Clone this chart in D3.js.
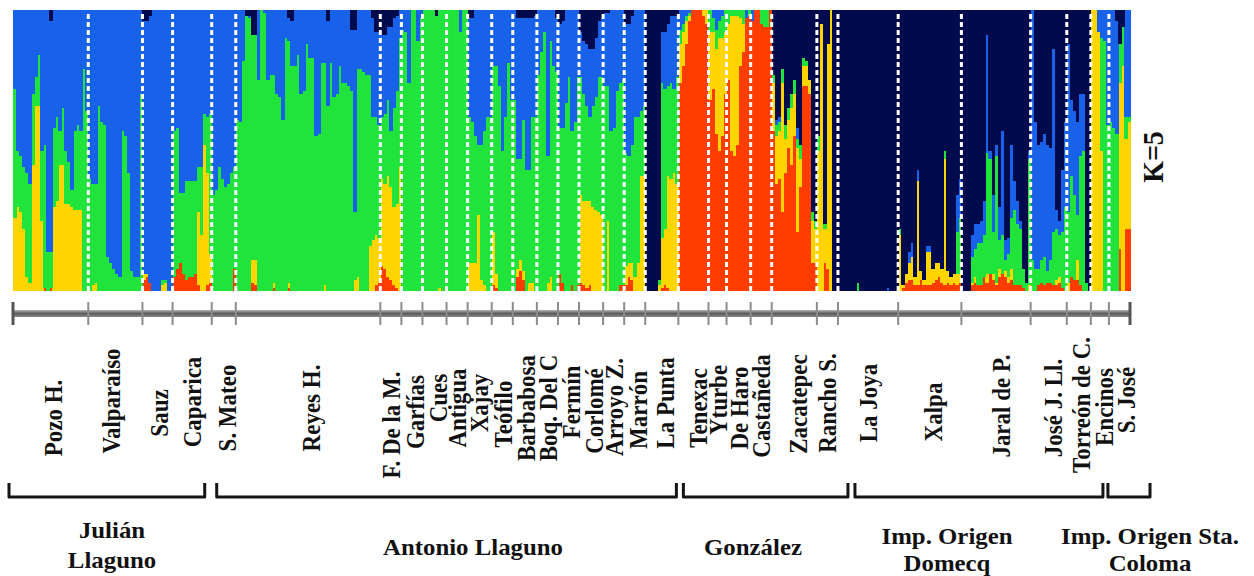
<!DOCTYPE html>
<html>
<head>
<meta charset="utf-8">
<script src="https://cdn.jsdelivr.net/npm/d3@7"></script>
<style>
  body { margin: 0; background: #fff; }
  svg { display: block; font-family: "Liberation Serif", "Times New Roman", serif; font-weight: bold; }
</style>
</head>
<body>
<svg id="chart" width="1254" height="576"></svg>
<script>
// Data
// ancestry per individual (%), order: red, yellow, green, blue, navy
const clusterColors = ["#ff3d00", "#ffd500", "#20e43c", "#1862ea", "#010a4c"];

const popNames = [
  "Pozo H.", "Valparaíso", "Sauz", "Caparica",
  "S. Mateo", "Reyes H.", "F. De la M.", "Garfías", "Cues", "Antigua", "Xajay", "Teófilo",
  "Barbabosa", "Boq. Del C", "Fermín", "Corlomé", "Arroyo Z.", "Marrón", "La Punta",
  "Tenexac", "Yturbe", "De Haro", "Castañeda", "Zacatepec", "Rancho S.",
  "La Joya", "Xalpa", "Jaral de P.", "José J. Ll.", "Torreón de C.", "Encinos",
  "S. José"
];

const groupNames = [
  ["Julián", "Llaguno"],
  ["Antonio Llaguno"],
  ["González"],
  ["Imp. Origen", "Domecq"],
  ["Imp. Origen Sta.", "Coloma"]
];

const julianQ = [
  // Pozo H.
  [[0,26,46,28,0],[0,30,20,50,0],[0,28,20,52,0],[0,22,22,56,0],[0,5,37,58,0],
   [0,3,35,62,0],[0,45,25,30,0],[0,66,10,24,0],[0,66,18,16,0],[0,25,25,50,0],
   [1,0,51,48,0],[0,0,14,86,0],[1,0,13,82,4],[0,30,28,42,0],[0,32,30,38,0],
   [0,45,12,43,0],[0,45,20,35,0],[0,31,19,50,0],[0,31,15,54,0],[0,30,6,64,0],
   [0,29,28,43,0],[0,29,30,41,0],[0,29,28,43,0],[0,0,79,21,0],[0,0,64,36,0]],
  // Valparaíso
  [[0,0,40,60,0],[0,2,36,62,0],[0,3,35,62,0],[0,0,66,34,0],[0,0,60,40,0],
   [0,0,59,41,0],[0,0,12,88,0],[0,0,10,90,0],[0,0,8,92,0],[0,0,6,94,0],
   [0,0,5,95,0],[0,0,57,43,0],[0,0,55,45,0],[0,0,42,58,0],[0,0,7,93,0],
   [0,0,5,95,0],[0,0,5,95,0],[0,0,70,30,0]],
  // Sauz
  [[4,2,0,90,4],[5,1,0,90,4],[3,0,0,95,2],[0,0,0,100,0],[0,0,0,100,0],
   [0,0,0,100,0],[0,2,2,96,0],[0,3,1,96,0],[0,0,0,100,0],[0,0,0,100,0]],
  // Caparica
  [[5,0,52,43,0],[8,0,50,42,0],[10,0,25,65,0],[6,0,29,65,0],[4,0,35,61,0],
   [5,0,34,61,0],[5,0,34,61,0],[6,0,33,61,0],[2,26,16,56,0],[0,20,24,56,0],
   [0,52,11,37,0],[2,40,20,38,0],[3,10,50,37,0]]
];

const antonioQ = [
  // S. Mateo
  [[0,0,34,66,0],[0,0,36,64,0],[0,0,44,56,0],[0,0,40,60,0],[0,0,37,63,0],
   [0,0,38,62,0],[0,0,42,58,0],[8,0,36,56,0]],
  // Reyes H.
  [[0,0,61,39,0],[0,0,60,40,0],[0,0,82,18,0],[0,0,98,0,2],[0,0,97,1,2],
   [3,8,80,0,9],[2,9,80,0,9],[0,0,75,25,0],[0,0,100,0,0],[0,0,99,1,0],
   [0,0,75,25,0],[0,0,77,23,0],[1,2,74,23,0],[0,0,70,30,0],[0,0,69,31,0],
   [0,0,61,39,0],[0,0,90,10,0],[1,2,86,8,3],[0,0,80,16,4],[0,0,80,20,0],
   [0,0,84,16,0],[0,0,70,30,0],[0,0,71,29,0],[0,0,88,12,0],[0,0,83,17,0],
   [0,0,83,17,0],[0,0,55,45,0],[0,0,56,44,0],[0,0,81,19,0],[0,2,79,19,0],
   [0,0,66,30,4],[0,0,81,19,0],[0,0,69,31,0],[0,0,70,30,0],[0,0,80,20,0],
   [0,0,74,26,0],[0,0,74,26,0],[0,0,73,27,0],[0,0,71,22,7],[0,4,24,65,7],
   [0,5,74,21,0],[0,0,79,21,0],[0,0,78,22,0],[0,0,77,23,0],[0,16,61,23,0],
   [0,18,44,35,3],[2,18,42,30,8],[3,16,40,33,8]],
  // F. De la M.
  [[9,31,22,29,9],[8,30,25,28,9],[5,36,27,26,6],[4,33,20,37,6],[2,28,35,32,3],
   [1,30,40,27,2],[0,44,46,10,0]],
  // Garfías
  [[0,0,93,7,0],[0,0,92,8,0],[0,0,74,26,0],[0,0,100,0,0],[0,0,100,0,0],
   [0,0,89,11,0],[0,0,97,3,0]],
  // Cues
  [[0,0,100,0,0],[0,0,100,0,0],[0,0,100,0,0],[0,0,100,0,0],[0,0,98,0,2],
   [0,1,99,0,0],[0,0,100,0,0],[0,0,100,0,0]],
  // Antigua
  [[0,0,100,0,0],[0,0,100,0,0],[0,0,100,0,0],[0,0,100,0,0],[0,0,92,8,0],
   [0,0,100,0,0],[0,0,100,0,0]],
  // Xajay
  [[0,10,52,35,3],[0,10,50,37,3],[0,10,45,45,0],[0,27,25,48,0],[0,4,48,48,0],
   [0,2,55,43,0],[0,0,62,38,0],[0,0,62,38,0]],
  // Teófilo
  [[2,19,59,20,0],[1,5,74,20,0],[0,0,73,27,0],[0,0,50,50,0],[0,0,62,38,0],
   [0,0,81,19,0],[0,0,68,32,0]],
  // Barbabosa
  [[0,0,68,32,0],[5,3,39,50,3],[7,4,36,50,3],[4,3,54,36,3],[0,0,43,54,3],
   [0,3,40,54,3],[0,3,59,35,3],[0,0,62,36,2]],
  // Boq. Del C
  [[0,0,77,23,0],[0,0,85,15,0],[0,0,92,8,0],[0,3,45,52,0],[0,5,84,11,0],
   [0,0,80,20,0],[0,0,78,19,3]],
  // Fermín
  [[6,0,52,37,5],[3,0,55,38,4],[0,0,67,33,0],[0,0,76,24,0],[2,0,55,43,0],
   [0,0,60,40,0],[2,0,74,24,0]],
  // Corlomé
  [[3,31,42,16,8],[2,30,38,19,11],[1,31,34,22,12],[2,30,30,24,14],[0,30,36,20,14],
   [0,29,40,21,10],[0,28,48,20,4],[0,27,49,21,3]],
  // Arroyo Z.
  [[0,0,73,26,1],[0,25,48,26,1],[0,0,57,43,0],[0,0,58,42,0],[0,0,71,29,0],
   [2,0,72,26,0],[2,0,73,25,0]],
  // Marrón
  [[2,7,40,46,5],[5,5,38,47,5],[4,6,42,46,2],[0,5,57,38,0],[0,10,52,38,0],
   [0,41,23,36,0],[0,41,25,34,0]],
  // La Punta
  [[0,0,0,0,100],[0,0,0,0,100],[0,0,0,0,100],[0,0,0,0,100],[0,2,2,0,96],
   [1,18,55,18,8],[2,20,50,20,8],[1,40,32,22,5],[0,40,34,24,2],[0,42,30,26,2],
   [0,38,38,22,2]]
];

const gonzalezQ = [
  // Tenexac
  [[74,14,5,7,0],[80,12,3,5,0],[88,8,2,2,0],[96,2,1,1,0],[100,0,0,0,0],
   [100,0,0,0,0],[100,0,0,0,0],[100,0,0,0,0],[98,2,0,0,0],[95,5,0,0,0]],
  // Yturbe
  [[68,24,8,0,0],[72,20,5,3,0],[56,30,7,7,0],[50,40,6,4,0],[55,35,8,2,0],
   [70,22,8,0,0]],
  // De Haro
  [[75,20,5,0,0],[50,48,2,0,0],[48,50,2,0,0],[52,46,2,0,0],[80,17,3,0,0],
   [85,10,5,0,0],[97,0,0,3,0],[98,0,2,0,0]],
  // Castañeda
  [[96,0,0,4,0],[100,0,0,0,0],[100,0,0,0,0],[95,0,5,0,0],[94,0,6,0,0],
   [94,0,6,0,0],[100,0,0,0,0]],
  // Zacatepec
  [[57,17,3,0,23],[38,17,4,2,39],[40,17,3,2,38],[28,46,5,0,21],[42,12,5,0,41],
   [51,10,4,0,35],[45,20,5,0,30],[55,15,5,0,25],[21,30,3,4,42],[37,10,5,0,48],
   [73,7,3,0,17],[73,7,2,0,18],[70,5,0,0,25],[10,15,3,0,72],[10,12,3,0,75]],
  // Rancho S.
  [[0,50,5,0,45],[0,95,0,0,5],[10,12,2,0,76],[8,80,0,0,12],[0,100,0,0,0],
   [0,0,0,0,100],[0,0,0,0,100]]
];

const domecqQ = [
  // La Joya
  [[0,0,0,0,100],[0,0,0,0,100],[0,0,0,0,100],[0,0,0,0,100],[0,0,0,0,100],
   [0,0,0,0,100],[0,0,3,0,97],[0,0,0,0,100],[0,0,0,0,100],[0,0,0,0,100],
   [0,0,0,0,100],[0,0,0,0,100],[0,0,0,0,100],[0,0,0,0,100],[0,0,0,0,100],
   [0,0,0,0,100],[0,0,0,1,99],[0,0,0,0,100],[0,0,0,0,100],[0,0,0,0,100]],
  // Xalpa
  [[0,20,2,0,78],[1,1,0,0,98],[3,3,0,0,94],[4,6,0,4,86],[4,8,0,5,83],
   [2,3,0,0,95],[2,37,0,4,57],[4,3,0,0,93],[2,2,0,0,96],[2,12,0,2,84],
   [2,12,0,2,84],[3,5,0,0,92],[4,6,0,0,90],[5,5,0,0,90],[3,5,0,0,92],
   [2,45,3,0,50],[3,4,0,0,93],[2,3,0,0,95],[3,3,0,0,94],[2,4,15,13,66],
   [3,3,20,14,60]],
  // Jaral de P.
  [[0,0,0,0,100],[0,0,0,0,100],[0,0,0,0,100],[2,1,9,8,80],[3,2,10,9,76],
   [2,0,15,7,76],[2,0,15,8,75],[5,0,15,12,68],[3,3,43,42,9],[6,0,41,3,50],
   [4,2,15,13,66],[2,1,45,4,48],[5,3,10,12,70],[6,0,14,37,43],[5,2,4,7,82],
   [3,2,8,6,81],[4,4,18,26,48],[2,0,27,10,61],[2,0,22,8,68],[2,0,20,3,75],
   [1,0,7,0,92],[0,0,3,0,97],[0,2,45,3,50]],
  // José J. Ll.
  [[0,0,11,89,0],[0,0,8,52,40],[2,0,6,44,48],[3,0,8,42,47],[2,0,10,44,44],
   [3,0,4,45,48],[3,0,8,40,49],[2,0,19,65,14],[2,2,18,7,71],[3,2,15,5,75],
   [1,0,20,22,57],[0,0,30,30,40]],
  // Torreón de C.
  [[0,3,25,60,12],[5,0,36,27,32],[4,0,30,30,36],[4,7,16,33,40],[2,0,46,22,30],
   [0,0,50,20,30],[0,0,3,0,97],[0,0,0,0,100]],
  // Encinos
  [[0,100,0,0,0],[0,100,0,0,0],[0,92,0,8,0],[0,50,40,10,0],[0,0,89,11,0],
   [0,0,59,41,0]]
];

const colomaQ = [
  // S. José
  [[0,0,60,40,0],[0,0,58,42,0],[0,0,56,40,4],[15,59,14,0,12],[0,80,14,0,6],
   [22,32,8,38,0],[22,38,2,38,0]]
];

// Layout
const plot = { left: 13, right: 1130, top: 10, bottom: 291 };
const labelFont = 23;
const stretchX = 1.08;
// per-label tweaks (x nudge, vertical centre)
const labelDx = [3,-4,2,0, 4,3,0,3,4,0,0,1,1,1,3,3,1,4,3, 5,1,1,0,4,0, 0,4,5,5,2,4, 7];
const labelCy = [418,401,413,402, 408,408,425,412,398,408,403,414,408,408,402,411,407,410,403,
                 408,400,408,406,404,403, 403,412,406,408,405,407, 400];
const bracketNudge = [[-4,-7],[5,-2],[5,10],[17,-6],[-1,20]];
const groupLabelX = [112, 473, 753, 947, 1150];
const groupLabelY = [538, 555, 555, 544, 544];
const groupLineGap = [30, 0, 0, 27, 27];

// Build individuals
const groupsQ = [julianQ, antonioQ, gonzalezQ, domecqQ, colomaQ];
const allPops = groupsQ.flat(1);
const popGroup = groupsQ.flatMap((g, gi) => g.map(() => gi));
const individuals = [];
allPops.forEach((rows, p) => rows.forEach(q => individuals.push({ pop: p, q: q })));
const N = individuals.length;

const svg = d3.select("#chart");

const x = d3.scaleBand().domain(d3.range(N)).range([plot.left, plot.right]).padding(0);
const y = d3.scaleLinear().domain([0, 1]).range([plot.bottom, plot.top]);

const stack = d3.stack()
  .keys(d3.range(5))
  .value((d, k) => d.q[k] / d3.sum(d.q));
const series = stack(individuals);

svg.append("g")
  .selectAll("g")
  .data(series)
  .join("g")
  .attr("fill", (d, i) => clusterColors[i])
  .selectAll("rect")
  .data(d => d)
  .join("rect")
  .attr("x", (d, i) => x(i))
  .attr("width", x.bandwidth() + 0.6)
  .attr("y", d => y(d[1]))
  .attr("height", d => Math.max(0, y(d[0]) - y(d[1])))
  .attr("shape-rendering", "crispEdges");

// population boundaries
const starts = [0];
allPops.forEach(rows => starts.push(starts[starts.length - 1] + rows.length));
const bx = i => (i >= N ? plot.right : x(i));
const boundaries = starts.map(bx);

svg.append("g")
  .selectAll("line")
  .data(boundaries.slice(1, -1))
  .join("line")
  .attr("x1", d => d).attr("x2", d => d)
  .attr("y1", plot.top + 4).attr("y2", plot.bottom)
  .attr("stroke", "#fff")
  .attr("stroke-width", 3)
  .attr("stroke-dasharray", "5,3");

// grey axis bar with ticks
const defs = svg.append("defs");
const grad = defs.append("linearGradient").attr("id", "barGrad").attr("x1", 0).attr("x2", 0).attr("y1", 0).attr("y2", 1);
grad.append("stop").attr("offset", "0%").attr("stop-color", "#b5b5b5");
grad.append("stop").attr("offset", "50%").attr("stop-color", "#5c5c5c");
grad.append("stop").attr("offset", "100%").attr("stop-color", "#8a8a8a");

svg.append("rect")
  .attr("x", plot.left).attr("y", 310)
  .attr("width", plot.right - plot.left).attr("height", 7)
  .attr("fill", "url(#barGrad)");

svg.append("g")
  .selectAll("line")
  .data(boundaries)
  .join("line")
  .attr("x1", d => d).attr("x2", d => d)
  .attr("y1", 302).attr("y2", 325)
  .attr("stroke", (d, i) => (i === 0 || i === boundaries.length - 1) ? "#555" : "#8c8c8c")
  .attr("stroke-width", (d, i) => (i === 0 || i === boundaries.length - 1) ? 3 : 2);

// population labels
svg.append("g")
  .selectAll("text")
  .data(popNames)
  .join("text")
  .attr("transform", (d, i) => {
    const cx = (boundaries[i] + boundaries[i + 1]) / 2 + labelDx[i];
    return `translate(${cx},${labelCy[i]}) scale(${stretchX},1) rotate(-90)`;
  })
  .attr("text-anchor", "middle")
  .attr("dy", "0.35em")
  .attr("font-size", labelFont)
  .attr("fill", "#111")
  .text(d => d);

// group brackets
groupNames.forEach((g, gi) => {
  const pops = d3.range(popNames.length).filter(p => popGroup[p] === gi);
  const x0 = boundaries[pops[0]] + bracketNudge[gi][0];
  const x1 = boundaries[pops[pops.length - 1] + 1] + bracketNudge[gi][1];
  svg.append("path")
    .attr("d", `M${x0},483 V497 H${x1} V483`)
    .attr("fill", "none")
    .attr("stroke", "#151515")
    .attr("stroke-width", 3)
    .attr("stroke-linejoin", "round");

  g.forEach((line, li) => {
    svg.append("text")
      .attr("transform", `translate(${groupLabelX[gi]},${groupLabelY[gi] + li * groupLineGap[gi]}) scale(${stretchX},1)`)
      .attr("text-anchor", "middle")
      .attr("font-size", labelFont)
      .attr("fill", "#111")
      .text(line);
  });
});

// K label
svg.append("text")
  .attr("transform", `translate(1152,157) scale(${stretchX},1) rotate(-90)`)
  .attr("text-anchor", "middle")
  .attr("dy", "0.35em")
  .attr("font-size", 28)
  .attr("fill", "#111")
  .text("K=5");
</script>
</body>
</html>
